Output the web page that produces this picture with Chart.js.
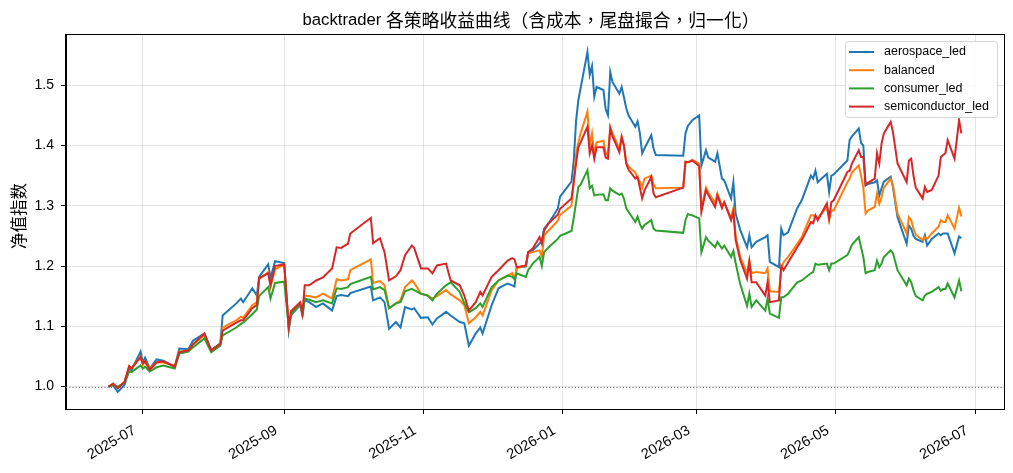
<!DOCTYPE html>
<html><head><meta charset="utf-8">
<script src="https://cdn.jsdelivr.net/npm/chart.js@4.4.1/dist/chart.umd.min.js"></script>
<style>html,body{margin:0;padding:0;background:#fff;}#wrap{width:1013px;height:473px;}</style>
</head><body><div id="wrap"><canvas id="c" width="1013" height="473"></canvas></div>
<script>
const dates = ['2025-06-16','2025-06-18','2025-06-20','2025-06-23','2025-06-25','2025-06-26','2025-06-30','2025-07-01','2025-07-02','2025-07-04',
'2025-07-07','2025-07-10','2025-07-15','2025-07-17','2025-07-21','2025-07-23','2025-07-28','2025-07-31','2025-08-04','2025-08-05',
'2025-08-11','2025-08-13','2025-08-14','2025-08-18','2025-08-20','2025-08-21','2025-08-25','2025-08-26','2025-08-28','2025-09-01',
'2025-09-03','2025-09-04','2025-09-08','2025-09-09','2025-09-10','2025-09-12','2025-09-15','2025-09-18','2025-09-22','2025-09-24',
'2025-09-26','2025-09-29','2025-09-30','2025-10-09','2025-10-10','2025-10-13','2025-10-15','2025-10-17','2025-10-20','2025-10-22',
'2025-10-24','2025-10-27','2025-10-28','2025-10-31','2025-11-03','2025-11-05','2025-11-07','2025-11-11','2025-11-13','2025-11-17',
'2025-11-19','2025-11-21','2025-11-24','2025-11-26','2025-11-27','2025-12-01','2025-12-04','2025-12-08','2025-12-10','2025-12-11',
'2025-12-12','2025-12-16','2025-12-17','2025-12-19','2025-12-22','2025-12-23','2025-12-24','2025-12-26','2025-12-30','2025-12-31',
'2026-01-05','2026-01-06','2026-01-07','2026-01-08','2026-01-09','2026-01-12','2026-01-13','2026-01-14','2026-01-15','2026-01-16',
'2026-01-19','2026-01-20','2026-01-21','2026-01-22','2026-01-23','2026-01-26','2026-01-27','2026-01-28','2026-01-29','2026-01-30',
'2026-02-02','2026-02-03','2026-02-04','2026-02-05','2026-02-06','2026-02-09','2026-02-10','2026-02-11','2026-02-23','2026-02-24',
'2026-02-25','2026-02-27','2026-03-02','2026-03-03','2026-03-05','2026-03-06','2026-03-09','2026-03-10','2026-03-12','2026-03-13',
'2026-03-16','2026-03-17','2026-03-18','2026-03-20','2026-03-23','2026-03-24','2026-03-25','2026-03-27','2026-03-31','2026-04-01',
'2026-04-02','2026-04-06','2026-04-07','2026-04-08','2026-04-10','2026-04-14','2026-04-16','2026-04-20','2026-04-21','2026-04-22',
'2026-04-23','2026-04-27','2026-04-28','2026-04-29','2026-04-30','2026-05-06','2026-05-07','2026-05-08','2026-05-11','2026-05-12',
'2026-05-13','2026-05-14','2026-05-15','2026-05-18','2026-05-19','2026-05-20','2026-05-21','2026-05-22','2026-05-25','2026-05-26',
'2026-05-28','2026-06-01','2026-06-02','2026-06-03','2026-06-04','2026-06-05','2026-06-08','2026-06-09','2026-06-10','2026-06-12',
'2026-06-15','2026-06-16','2026-06-17','2026-06-18','2026-06-19','2026-06-22','2026-06-24','2026-06-25'];

const aerospace_led = [1.000,1.002,0.991,1.003,1.030,1.027,1.058,1.040,1.048,1.030,
1.045,1.043,1.033,1.063,1.062,1.076,1.088,1.060,1.072,1.118,
1.138,1.146,1.140,1.163,1.151,1.182,1.203,1.180,1.208,1.205,
1.093,1.118,1.135,1.118,1.143,1.140,1.132,1.138,1.126,1.150,
1.152,1.150,1.155,1.166,1.143,1.148,1.140,1.096,1.107,1.098,
1.132,1.128,1.130,1.114,1.115,1.103,1.113,1.124,1.118,1.107,
1.105,1.068,1.088,1.098,1.088,1.135,1.163,1.171,1.168,1.166,
1.198,1.199,1.223,1.226,1.237,1.243,1.262,1.271,1.295,1.315,
1.340,1.375,1.440,1.475,1.495,1.555,1.517,1.532,1.481,1.497,
1.492,1.460,1.450,1.522,1.505,1.486,1.497,1.480,1.462,1.450,
1.431,1.440,1.420,1.387,1.395,1.417,1.395,1.384,1.383,1.420,
1.432,1.442,1.450,1.367,1.392,1.380,1.373,1.387,1.345,1.342,
1.312,1.339,1.287,1.260,1.231,1.251,1.231,1.240,1.248,1.251,
1.207,1.198,1.262,1.251,1.256,1.296,1.309,1.350,1.345,1.358,
1.339,1.353,1.323,1.350,1.352,1.375,1.409,1.415,1.428,1.404,
1.400,1.334,1.336,1.339,1.342,1.317,1.329,1.340,1.348,1.331,
1.281,1.237,1.267,1.262,1.250,1.245,1.240,1.251,1.234,1.245,
1.254,1.251,1.254,1.254,1.254,1.221,1.249,1.246];

const balanced = [1.000,1.004,0.998,1.008,1.033,1.030,1.050,1.036,1.042,1.030,
1.040,1.040,1.035,1.058,1.060,1.070,1.085,1.060,1.070,1.098,
1.110,1.116,1.114,1.135,1.140,1.178,1.190,1.165,1.195,1.202,
1.098,1.120,1.137,1.120,1.151,1.150,1.148,1.154,1.146,1.178,
1.176,1.178,1.193,1.211,1.172,1.175,1.168,1.130,1.138,1.143,
1.165,1.176,1.172,1.154,1.151,1.146,1.150,1.160,1.153,1.143,
1.135,1.105,1.115,1.124,1.118,1.160,1.176,1.184,1.188,1.179,
1.196,1.201,1.221,1.223,1.226,1.215,1.251,1.259,1.275,1.285,
1.300,1.340,1.385,1.405,1.420,1.456,1.400,1.420,1.385,1.405,
1.408,1.388,1.384,1.431,1.420,1.395,1.414,1.400,1.372,1.365,
1.355,1.345,1.340,1.330,1.345,1.350,1.335,1.329,1.330,1.373,
1.372,1.376,1.370,1.295,1.330,1.322,1.305,1.320,1.300,1.305,
1.280,1.296,1.250,1.215,1.188,1.209,1.188,1.190,1.188,1.196,
1.158,1.157,1.195,1.206,1.215,1.237,1.248,1.284,1.284,1.282,
1.279,1.298,1.276,1.292,1.292,1.339,1.345,1.355,1.367,1.350,
1.330,1.287,1.292,1.298,1.320,1.303,1.314,1.330,1.345,1.334,
1.287,1.254,1.281,1.276,1.262,1.252,1.243,1.248,1.245,1.254,
1.265,1.276,1.273,1.273,1.284,1.262,1.297,1.282];

const consumer_led = [1.000,1.003,1.000,1.006,1.025,1.024,1.035,1.030,1.033,1.025,
1.032,1.035,1.030,1.055,1.058,1.065,1.080,1.057,1.068,1.085,
1.098,1.104,1.106,1.120,1.128,1.150,1.165,1.146,1.172,1.174,
1.100,1.120,1.137,1.120,1.146,1.144,1.140,1.143,1.138,1.163,
1.162,1.165,1.170,1.182,1.161,1.165,1.160,1.130,1.138,1.140,
1.158,1.162,1.160,1.154,1.151,1.143,1.154,1.168,1.173,1.157,
1.138,1.123,1.130,1.138,1.132,1.165,1.176,1.184,1.182,1.178,
1.188,1.182,1.193,1.204,1.215,1.200,1.223,1.231,1.245,1.250,
1.258,1.280,1.305,1.331,1.335,1.359,1.329,1.333,1.317,1.318,
1.319,1.309,1.309,1.329,1.325,1.318,1.320,1.312,1.296,1.290,
1.273,1.282,1.270,1.262,1.268,1.276,1.262,1.259,1.255,1.276,
1.286,1.284,1.279,1.223,1.248,1.242,1.231,1.240,1.229,1.234,
1.215,1.225,1.205,1.170,1.134,1.154,1.132,1.143,1.126,1.146,
1.121,1.114,1.148,1.148,1.154,1.173,1.176,1.188,1.190,1.204,
1.202,1.204,1.193,1.204,1.204,1.218,1.226,1.235,1.248,1.231,
1.215,1.188,1.190,1.193,1.209,1.198,1.204,1.215,1.226,1.221,
1.193,1.168,1.179,1.173,1.160,1.150,1.143,1.151,1.154,1.157,
1.165,1.159,1.162,1.162,1.171,1.148,1.176,1.158];

const semiconductor_led = [1.000,1.005,0.997,1.008,1.034,1.030,1.049,1.038,1.042,1.028,
1.040,1.042,1.033,1.057,1.060,1.070,1.088,1.060,1.071,1.093,
1.106,1.110,1.110,1.130,1.135,1.180,1.188,1.168,1.200,1.203,
1.100,1.125,1.140,1.122,1.168,1.168,1.176,1.181,1.196,1.231,
1.230,1.237,1.254,1.280,1.238,1.246,1.223,1.176,1.183,1.193,
1.218,1.234,1.230,1.196,1.196,1.188,1.201,1.204,1.176,1.168,
1.151,1.126,1.140,1.157,1.151,1.182,1.193,1.209,1.213,1.211,
1.198,1.201,1.223,1.229,1.248,1.237,1.259,1.271,1.285,1.295,
1.312,1.340,1.370,1.397,1.405,1.431,1.387,1.400,1.378,1.397,
1.397,1.380,1.378,1.428,1.415,1.389,1.414,1.400,1.370,1.360,
1.345,1.348,1.330,1.312,1.325,1.348,1.320,1.314,1.330,1.373,
1.372,1.375,1.366,1.290,1.326,1.318,1.298,1.317,1.296,1.306,
1.276,1.290,1.243,1.210,1.179,1.207,1.173,1.173,1.151,1.173,
1.140,1.143,1.200,1.193,1.206,1.231,1.243,1.273,1.271,1.284,
1.276,1.304,1.279,1.306,1.309,1.356,1.358,1.370,1.392,1.381,
1.381,1.334,1.338,1.345,1.387,1.370,1.403,1.420,1.439,1.422,
1.370,1.339,1.375,1.378,1.350,1.330,1.312,1.331,1.323,1.326,
1.350,1.381,1.384,1.387,1.409,1.378,1.442,1.420];

const seriesNames = ['aerospace_led','balanced','consumer_led','semiconductor_led'];
const seriesColors = ['#1f77b4','#ff7f0e','#2ca02c','#d62728'];
const xTickDates = ['2025-07-01','2025-09-01','2025-11-01','2026-01-01','2026-03-01','2026-05-01','2026-07-01'];
const xTickLabels = ['2025-07','2025-09','2025-11','2026-01','2026-03','2026-05','2026-07'];
const yTicks = [1.0,1.1,1.2,1.3,1.4,1.5];
const baselineValue = 1.0;
const titleLatin = 'backtrader ';
const titleCJK = '各策略收益曲线（含成本，尾盘撮合，归一化）';
const yAxisLabel = '净值指数';

const FONT = "'Liberation Sans',Arial,sans-serif";
const CJK = "'Noto Sans CJK TC','Noto Sans CJK SC',sans-serif";
const DAY = 86400000;
const ORIGIN = Date.UTC(2025,6,1);
const toDay = s => (Date.parse(s + 'T00:00:00Z') - ORIGIN) / DAY;

const allSeries = [aerospace_led, balanced, consumer_led, semiconductor_led];
const xs = dates.map(toDay);
const xMinD = Math.min(...xs), xMaxD = Math.max(...xs);
const xSpan = xMaxD - xMinD;
const allVals = allSeries.flat();
const yMinD = Math.min(...allVals, baselineValue), yMaxD = Math.max(...allVals);
const ySpan = yMaxD - yMinD;

const datasets = allSeries.map((arr, i) => ({
  label: seriesNames[i],
  data: arr.map((v, j) => ({x: xs[j], y: v})),
  borderColor: seriesColors[i],
  backgroundColor: seriesColors[i],
  borderWidth: 2,
  pointRadius: 0,
  tension: 0,
  fill: false,
  order: allSeries.length - i
}));

const decor = {
  id: 'decor',
  beforeDatasetsDraw(chart) {
    const {ctx, chartArea: a, scales} = chart;
    const y = scales.y.getPixelForValue(baselineValue);
    ctx.save();
    ctx.strokeStyle = '#808080';
    ctx.lineWidth = 1;
    ctx.setLineDash([1.2, 2]);
    ctx.beginPath();
    ctx.moveTo(a.left, Math.round(y) + 0.5);
    ctx.lineTo(a.right, Math.round(y) + 0.5);
    ctx.stroke();
    ctx.restore();
  },
  afterDraw(chart) {
    const {ctx, chartArea: a} = chart;
    ctx.save();
    ctx.strokeStyle = '#000';
    ctx.lineWidth = 1;
    ctx.strokeRect(Math.round(a.left) - 0.5, Math.round(a.top) - 0.5, Math.round(a.right - a.left) + 1, Math.round(a.bottom - a.top) + 1);
    ctx.fillStyle = '#000';
    ctx.textBaseline = 'middle';
    ctx.textAlign = 'left';
    const fL = '16.7px ' + FONT, fC = '17.8px ' + CJK;
    ctx.font = fL; const wL = ctx.measureText(titleLatin).width;
    ctx.font = fC; const wC = ctx.measureText(titleCJK).width;
    const tx = (a.left + a.right) / 2 - 4 - (wL + wC) / 2;
    ctx.font = fL; ctx.fillText(titleLatin, tx, 20);
    ctx.font = fC; ctx.fillText(titleCJK, tx + wL, 20);
    ctx.save();
    ctx.translate(19, (a.top + a.bottom) / 2 - 6);
    ctx.rotate(-Math.PI / 2);
    ctx.textAlign = 'center';
    ctx.font = '16.5px ' + CJK;
    ctx.fillText(yAxisLabel, 0, 0);
    ctx.restore();
    const lx = a.right - 159, ly = a.top + 6, lw = 152, lh = 76;
    ctx.beginPath();
    if (ctx.roundRect) ctx.roundRect(lx + 0.5, ly + 0.5, lw, lh, 3); else ctx.rect(lx + 0.5, ly + 0.5, lw, lh);
    ctx.fillStyle = 'rgba(255,255,255,0.85)';
    ctx.fill();
    ctx.strokeStyle = '#d6d6d6';
    ctx.lineWidth = 1;
    ctx.stroke();
    ctx.font = '12.5px ' + FONT;
    ctx.textAlign = 'left';
    ctx.textBaseline = 'middle';
    seriesNames.forEach((n, i) => {
      const ry = ly + 11 + i * 18.2;
      ctx.strokeStyle = seriesColors[i];
      ctx.lineWidth = 2;
      ctx.beginPath();
      ctx.moveTo(lx + 4, ry);
      ctx.lineTo(lx + 29, ry);
      ctx.stroke();
      ctx.fillStyle = '#000';
      ctx.fillText(n, lx + 39, ry);
    });
    ctx.restore();
  }
};

new Chart(document.getElementById('c'), {
  type: 'line',
  data: {datasets},
  options: {
    responsive: false,
    animation: false,
    devicePixelRatio: 1,
    layout: {padding: {left: 0, right: 9, top: 35, bottom: 0}},
    plugins: {legend: {display: false}, title: {display: false}, tooltip: {enabled: false}},
    scales: {
      x: {
        type: 'linear',
        min: xMinD - 0.05 * xSpan,
        max: xMaxD + 0.05 * xSpan,
        afterBuildTicks: s => { s.ticks = xTickDates.map(d => ({value: toDay(d)})); },
        afterFit: s => { s.height = 64; },
        ticks: {
          autoSkip: false, minRotation: 30, maxRotation: 30, color: '#000', padding: 8, labelOffset: -8,
          font: {family: FONT, size: 14.5},
          callback: (v, i) => xTickLabels[i]
        },
        grid: {color: 'rgba(176,176,176,0.35)', tickColor: '#000', tickLength: 5, drawTicks: true},
        border: {display: true, color: '#000', width: 1}
      },
      y: {
        type: 'linear',
        min: yMinD - 0.05 * ySpan,
        max: yMaxD + 0.05 * ySpan,
        afterBuildTicks: s => { s.ticks = yTicks.map(v => ({value: v})); },
        afterFit: s => { s.width = 66; },
        ticks: {
          color: '#000', padding: 7, font: {family: FONT, size: 14},
          callback: v => Number(v).toFixed(1)
        },
        grid: {color: 'rgba(176,176,176,0.35)', tickColor: '#000', tickLength: 5, drawTicks: true},
        border: {display: true, color: '#000', width: 1}
      }
    }
  },
  plugins: [decor]
});
</script>
</body></html>
